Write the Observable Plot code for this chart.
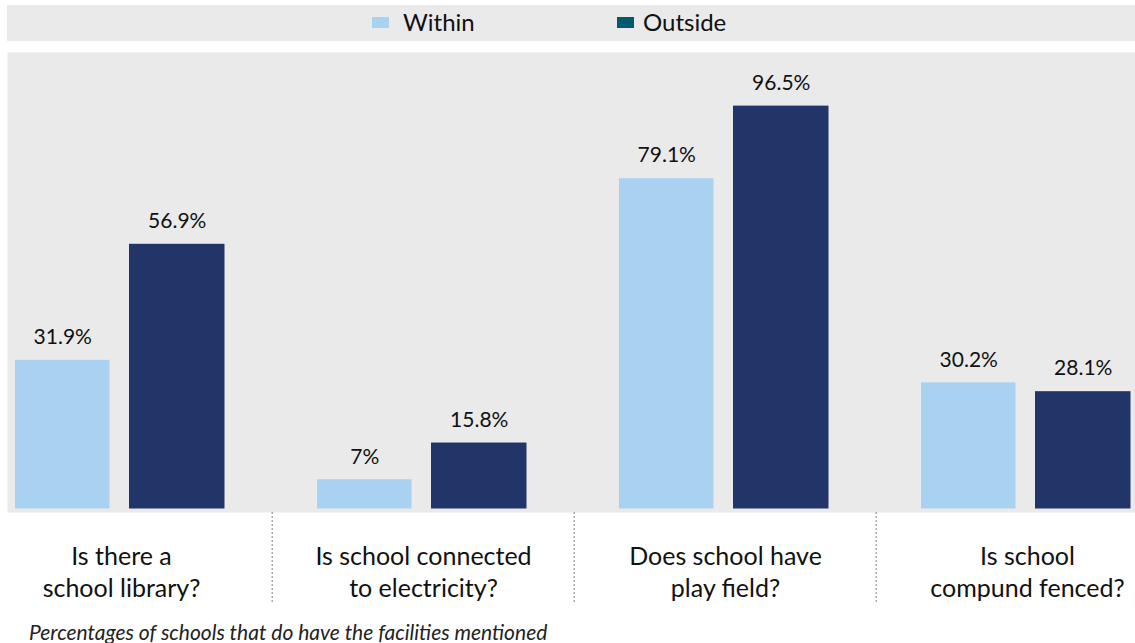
<!DOCTYPE html>
<html><head><meta charset="utf-8">
<script src="https://cdn.jsdelivr.net/npm/d3@7"></script>
<script src="https://cdn.jsdelivr.net/npm/@observablehq/plot@0.6"></script>
<style>
body{margin:0;background:#fff;font-family:Lato,"Open Sans",sans-serif;color:#111;width:1135px;height:643px;overflow:hidden;position:relative;}
#legend{position:absolute;left:7px;top:5px;width:1128px;height:36px;background:#EAEAEA;}
.item{position:absolute;top:-2px;height:36px;display:flex;align-items:center;font-size:24px;}
.sw{width:17px;height:11px;margin-top:3px;}
#chart{position:absolute;left:0;top:52px;}
#caption{position:absolute;left:29px;top:619px;font-style:italic;font-size:21px;color:#222;}
</style></head><body>
<div id="legend"></div>
<div id="chart"></div>
<div id="caption">Percentages of schools that do have the facilities mentioned</div>
<script>
const categories = ["Is there a\nschool library?", "Is school connected\nto electricity?", "Does school have\nplay field?", "Is school\ncompund fenced?"];
const series = ["Within", "Outside"];
const within = [35.6, 7, 79.1, 30.2];
const outside = [63.4, 15.8, 96.5, 28.1];
const withinLabels = ["31.9%", "7%", "79.1%", "30.2%"];
const outsideLabels = ["56.9%", "15.8%", "96.5%", "28.1%"];
const barColors = ["#A9D1F0", "#213569"];
const legendColors = ["#A9D1F0", "#005A70"];

// legend
const legend = document.getElementById("legend");
const legendLeft = [365, 610];
const legendGap = [14, 9];
series.forEach((s, i) => {
  const it = document.createElement("div");
  it.className = "item";
  it.style.left = legendLeft[i] + "px";
  const sw = document.createElement("span");
  sw.className = "sw";
  sw.style.background = legendColors[i];
  sw.style.marginRight = legendGap[i] + "px";
  it.appendChild(sw);
  it.appendChild(document.createTextNode(s));
  legend.appendChild(it);
});

const W = categories.map((c, i) => ({cat: c, series: "Within", value: within[i], label: withinLabels[i]}));
const O = categories.map((c, i) => ({cat: c, series: "Outside", value: outside[i], label: outsideLabels[i]}));

const plot = Plot.plot({
  width: 1135, height: 560,
  marginTop: 0, marginBottom: 8, marginLeft: 7, marginRight: 0,
  x: {type: "band", domain: categories, range: [-31, 1179], padding: 0, axis: null},
  y: {domain: [0, 100], range: [456.5, 39], axis: null},
  color: {domain: series, range: barColors},
  style: {fontFamily: "Lato, 'Open Sans', sans-serif", background: "transparent", color: "#111"},
  marks: [
    Plot.frame({fill: "#EAEAEA", stroke: "none", insetBottom: 92}),
    Plot.barY(W, {x: "cat", y: "value", fill: "series", insetLeft: 45, insetRight: 162.5}),
    Plot.barY(O, {x: "cat", y: "value", fill: "series", insetLeft: 159, insetRight: 47.5}),
    Plot.text(W, {x: "cat", y: "value", text: "label", dx: -58.75, dy: -23, fontSize: 21, fill: "#111"}),
    Plot.text(O, {x: "cat", y: "value", text: "label", dx: 55.75, dy: -23, fontSize: 21, fill: "#111"}),
    Plot.ruleX(categories.slice(1), {x: d => d, dx: -151.25, insetTop: 460, stroke: "#aaa", strokeWidth: 1.5, strokeDasharray: "2,2"}),
    Plot.text(categories, {x: d => d, text: d => d, frameAnchor: "top", dy: 518, lineAnchor: "middle", lineHeight: 1.3, fontSize: 25, fill: "#111"})
  ]
});
document.getElementById("chart").appendChild(plot);
</script>
</body></html>
